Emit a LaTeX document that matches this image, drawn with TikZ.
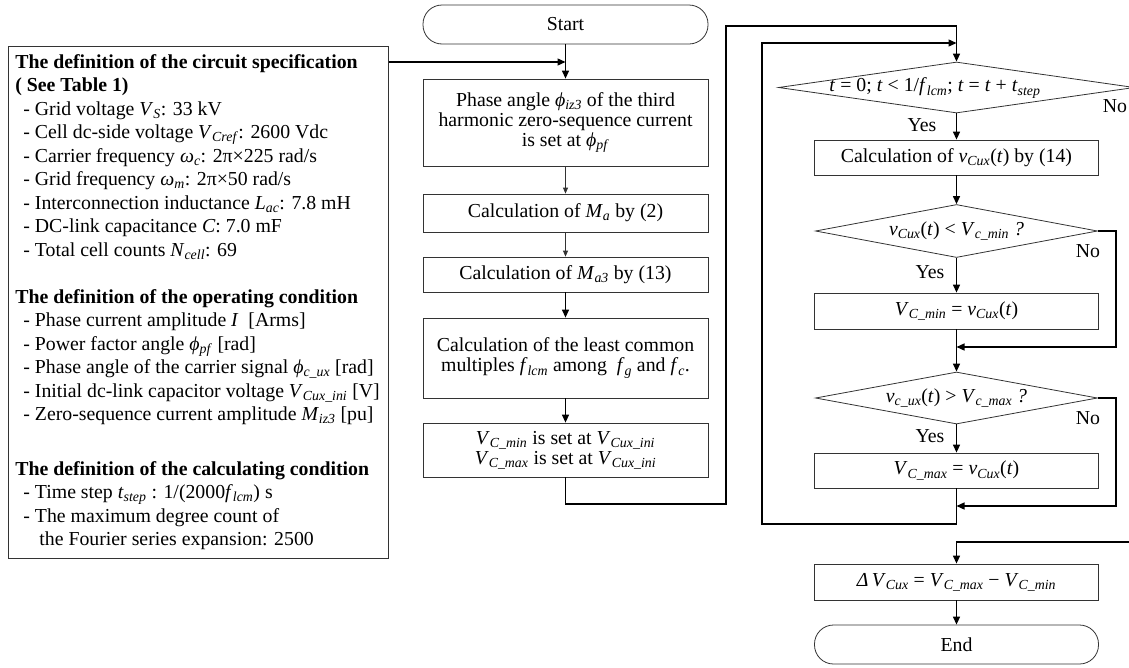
\documentclass[tikz,border=0pt]{standalone}
\usepackage{fontspec}
\setmainfont{Liberation Serif}
\usetikzlibrary{arrows.meta,shapes.geometric}
\newcommand{\iv}[1]{\textit{#1}}
\newcommand{\sbi}[1]{\textsubscript{\textit{#1}}}
\newcommand{\ind}{\hspace*{15pt}}
\newcommand{\hd}{\hspace*{7pt}}
\begin{document}
\begin{tikzpicture}[x=1pt,y=-1pt,
  every node/.style={font=\fontsize{19.8pt}{20pt}\selectfont, inner sep=0pt},
  box/.style={draw=black!80, line width=0.8pt, minimum width=285pt, align=center},
  term/.style={box, rounded corners=19pt},
  dec/.style={draw=black!80, line width=0.8pt, shape=diamond, inner sep=0pt, aspect=6},
  conn/.style={line width=1.3pt, line join=miter, -{Triangle[length=8pt,width=7pt]}},
  thinconn/.style={line width=0.8pt, black!80, -{Triangle[length=6pt,width=5pt]}},
  lbl/.style={font=\fontsize{19.8pt}{20pt}\selectfont}]
\useasboundingbox (0,0) rectangle (1129,667);

% left box
\node[draw=black!80, line width=0.8pt, anchor=north west, inner sep=0pt] (lb) at (8,46)
{\parbox[t][512pt][t]{380pt}{\fontsize{19.8pt}{23.5pt}\selectfont\raggedright
\vspace*{8pt}
\hd\textbf{The definition of the circuit specification}\\
\hd\textbf{( See Table 1)}\\
\ind- Grid voltage \iv{V}\sbi{S}: 33 kV\\
\ind- Cell dc-side voltage \iv{V}\sbi{Cref}: 2600 Vdc\\
\ind- Carrier frequency \iv{ω}\sbi{c}: 2π×225 rad/s\\
\ind- Grid frequency \iv{ω}\sbi{m}: 2π×50 rad/s\\
\ind- Interconnection inductance \iv{L}\sbi{ac}: 7.8 mH\\
\ind- DC-link capacitance \iv{C}: 7.0 mF\\
\ind- Total cell counts \iv{N}\sbi{cell}: 69\\[23.5pt]
\hd\textbf{The definition of the operating condition}\\
\ind- Phase current amplitude \iv{I}~ [Arms]\\
\ind- Power factor angle \iv{ϕ}\sbi{pf} [rad]\\
\ind- Phase angle of the carrier signal \iv{ϕ}\sbi{c\_ux} [rad]\\
\ind- Initial dc-link capacitor voltage \iv{V}\sbi{Cux\_ini} [V]\\
\ind- Zero-sequence current amplitude \iv{M}\sbi{iz3} [pu]\\[31pt]
\hd\textbf{The definition of the calculating condition}\\
\ind- Time step \iv{t}\sbi{step} : 1/(2000\iv{f}\sbi{lcm}) s\\
\ind- The maximum degree count of\\
\hspace*{31pt}the Fourier series expansion: 2500}};

% middle column
\node[term, minimum height=39pt] (start) at (565.5,24.5) {Start};
\node[box, minimum height=87pt] (b1) at (565.5,122.5)
  {Phase angle \iv{ϕ}\sbi{iz3} of the third\\harmonic zero-sequence current\\is set at \iv{ϕ}\sbi{pf}};
\node[box, minimum height=38pt] (b2) at (565.5,213) {Calculation of \iv{M}\sbi{a} by (2)};
\node[box, minimum height=35pt] (b3) at (565.5,274.5) {Calculation of \iv{M}\sbi{a3} by (13)};
\node[box, minimum height=80pt] (b4) at (565.5,358)
  {Calculation of the least common\\multiples \iv{f}\sbi{lcm} among~ \iv{f}\sbi{g} and \iv{f}\sbi{c}.};
\node[box, minimum height=54pt] (b5) at (565.5,450)
  {\iv{V}\sbi{C\_min} is set at \iv{V}\sbi{Cux\_ini}\\\iv{V}\sbi{C\_max} is set at \iv{V}\sbi{Cux\_ini}};

% right column
\node[dec, minimum width=356pt, minimum height=51pt] (d1) at (956.5,87.5) {};
\node[lbl] (d1t) at (935,88) {\iv{t} = 0; \iv{t} < 1/\iv{f}\sbi{lcm}; \iv{t} = \iv{t} + \iv{t}\sbi{step}};
\node[box, minimum width=284pt, minimum height=35pt] (b6) at (956.5,157.5)
  {Calculation of \iv{v}\sbi{Cux}(\iv{t}) by (14)};
\node[dec, minimum width=282pt, minimum height=53pt] (d2) at (956.5,231)
  {\iv{v}\sbi{Cux}(\iv{t}) < \iv{V}\sbi{c\_min} \iv{?}};
\node[box, minimum width=284pt, minimum height=36pt] (b7) at (956.5,311)
  {\iv{V}\sbi{C\_min} = \iv{v}\sbi{Cux}(\iv{t})};
\node[dec, minimum width=282pt, minimum height=52pt] (d3) at (956.5,398)
  {\iv{v}\sbi{c\_ux}(\iv{t}) > \iv{V}\sbi{c\_max} \iv{?}};
\node[box, minimum width=284pt, minimum height=35pt] (b8) at (956.5,470.5)
  {\iv{V}\sbi{C\_max} = \iv{v}\sbi{Cux}(\iv{t})};
\node[box, minimum width=284pt, minimum height=36pt] (b9) at (956.5,582)
  {\iv{Δ}\,\iv{V}\sbi{Cux} = \iv{V}\sbi{C\_max} − \iv{V}\sbi{C\_min}};
\node[term, minimum width=284pt, minimum height=39pt] (end) at (956.5,644.5) {End};

% labels
\node[lbl] (y1) at (922,125) {Yes};
\node[lbl] (n1) at (1115,106) {No};
\node[lbl] (y2) at (930,272) {Yes};
\node[lbl] (n2) at (1088,251) {No};
\node[lbl] (y3) at (930,436) {Yes};
\node[lbl] (n3) at (1088,418) {No};

% helper coordinates
\coordinate (jL) at (565.5,62);
\coordinate (c1) at (565.5,504);
\coordinate (c2) at (726,504);
\coordinate (c3) at (726,26);
\coordinate (c4) at (956.5,26);
\coordinate (j4) at (956.5,43);
\coordinate (c5) at (956.5,524);
\coordinate (c6) at (762,524);
\coordinate (c7) at (762,43);
\coordinate (xr) at (1116,0);
\coordinate (xo) at (1145,0);
\coordinate (j2) at (956.5,347);
\coordinate (j3) at (956.5,506);
\coordinate (j5) at (956.5,542);

% connectors
\draw[conn] (start) -- (b1);
\draw[conn] (lb.east |- jL) -- (jL);
\draw[thinconn] (b1) -- (b2);
\draw[thinconn] (b2) -- (b3);
\draw[conn] (b3) -- (b4);
\draw[conn] (b4) -- (b5);
\draw[conn] (b5.south) -- (c1) -- (c2) -- (c3) -- (c4) -- (d1.north);
\draw[conn] (d1.south) -- (b6.north);
\draw[conn] (b6.south) -- (d2.north);
\draw[conn] (d2.south) -- (b7.north);
\draw[conn] (d2.east) -- (d2.east -| xr) -- (xr |- j2) -- (j2);
\draw[conn] (b7.south) -- (d3.north);
\draw[conn] (d3.south) -- (b8.north);
\draw[conn] (d3.east) -- (d3.east -| xr) -- (xr |- j3) -- (j3);
\draw[conn] (b8.south) -- (c5) -- (c6) -- (c7) -- (j4);
\draw[conn] (d1.east) -- (d1.east -| xo) -- (xo |- j5) -- (j5) -- (b9.north);
\draw[conn] (b9) -- (end);
\end{tikzpicture}
\end{document}
